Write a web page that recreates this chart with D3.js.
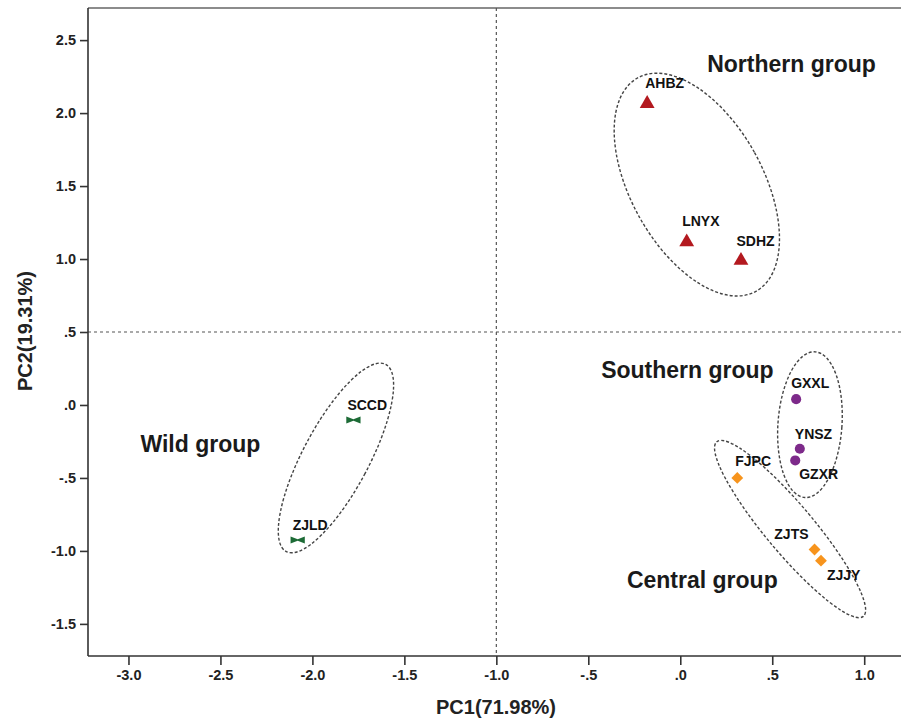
<!DOCTYPE html>
<html>
<head>
<meta charset="utf-8">
<script src="https://cdn.jsdelivr.net/npm/d3@7"></script>
<style>
  html, body { margin: 0; padding: 0; background: #fff; }
  svg { display: block; font-family: Arial, "Liberation Sans", Helvetica, sans-serif; }
</style>
</head>
<body>
<svg id="chart" width="901" height="723"></svg>
<script>
// ---------- data ----------
const names  = ["AHBZ", "LNYX", "SDHZ", "GXXL", "YNSZ", "GZXR", "FJPC", "ZJTS", "ZJJY", "SCCD", "ZJLD"];
const pc1    = [-0.18, 0.035, 0.33, 0.63, 0.65, 0.625, 0.31, 0.73, 0.765, -1.777, -2.08];
const pc2    = [2.075, 1.127, 1.00, 0.04, -0.30, -0.38, -0.50, -0.99, -1.067, -0.103, -0.925];
const groups = ["Northern", "Northern", "Northern", "Southern", "Southern", "Southern", "Central", "Central", "Central", "Wild", "Wild"];

const groupNames  = ["Northern group", "Southern group", "Central group", "Wild group"];
const groupKeys   = ["Northern", "Southern", "Central", "Wild"];
const xTicks = [-3.0, -2.5, -2.0, -1.5, -1.0, -0.5, 0.0, 0.5, 1.0];
const yTicks = [-1.5, -1.0, -0.5, 0.0, 0.5, 1.0, 1.5, 2.0, 2.5];
const refX = -1.0, refY = 0.5;
const xTitle = "PC1(71.98%)", yTitle = "PC2(19.31%)";

// ---------- styling / layout ----------
const colors = { Northern: "#b3191f", Southern: "#7d2a8a", Central: "#f7941d", Wild: "#1d6b36" };
const labelPlace = {
  AHBZ: [-2, -14, "start"], LNYX: [-4.5, -14, "start"], SDHZ: [-4.5, -13, "start"],
  GXXL: [-5, -11.5, "start"], YNSZ: [-5, -10, "start"], GZXR: [4, 19, "start"],
  FJPC: [-2, -12, "start"], ZJTS: [-6, -10, "end"], ZJJY: [6, 19, "start"],
  SCCD: [-6, -10, "start"], ZJLD: [-5, -10, "start"]
};
const groupLabelPos = { Northern: [0.146, 2.28], Southern: [-0.43, 0.185], Central: [-0.29, -1.256], Wild: [-2.935, -0.321] };
const ellipses = [
  { c: [0.09, 1.51], rx: 66, ry: 122, rot: -29 },
  { c: [0.705, -0.135], rx: 32, ry: 73, rot: 4 },
  { c: [0.597, -0.85], rx: 24, ry: 114, rot: -40 },
  { c: [-1.872, -0.363], rx: 33, ry: 106, rot: 28 }
];

const svg = d3.select("#chart");
const mLeft = 88, mRight = 901, mTop = 8, mBottom = 656;

const x = d3.scaleLinear().domain([-3.22, 1.2]).range([mLeft, mRight]);
const y = d3.scaleLinear().domain([-1.72, 2.72]).range([mBottom, mTop]);

const fmt = v => {
  let s = Math.abs(v) < 1e-9 ? "0.0" : v.toFixed(1);
  return s.replace(/^(-?)0\./, "$1.");
};

svg.append("line").attr("x1", mLeft).attr("x2", mRight).attr("y1", mTop).attr("y2", mTop)
  .attr("stroke", "#666").attr("stroke-width", 1.6);

svg.append("line").attr("x1", x(refX)).attr("x2", x(refX)).attr("y1", mTop).attr("y2", mBottom)
  .attr("stroke", "#555").attr("stroke-width", 1.2).attr("stroke-dasharray", "3,3");
svg.append("line").attr("x1", mLeft).attr("x2", mRight).attr("y1", y(refY)).attr("y2", y(refY))
  .attr("stroke", "#555").attr("stroke-width", 1.2).attr("stroke-dasharray", "3,3");

const xAxis = d3.axisBottom(x).tickValues(xTicks).tickFormat(fmt).tickSize(9).tickPadding(5).tickSizeOuter(0);
const yAxis = d3.axisLeft(y).tickValues(yTicks).tickFormat(fmt).tickSize(8).tickPadding(4).tickSizeOuter(0);

const gx = svg.append("g").attr("transform", `translate(0,${mBottom})`).call(xAxis);
const gy = svg.append("g").attr("transform", `translate(${mLeft},0)`).call(yAxis);
[gx, gy].forEach(g => {
  g.select(".domain").attr("stroke", "#333").attr("stroke-width", 1.6);
  g.selectAll(".tick line").attr("stroke", "#333").attr("stroke-width", 1.6);
  g.selectAll(".tick text").attr("fill", "#222").attr("font-size", 14.5).attr("font-weight", "bold")
    .attr("font-family", "Arial, 'Liberation Sans', sans-serif");
});
gx.select(".domain").attr("d", `M${mLeft},0H${mRight}`);
gy.select(".domain").attr("d", `M0,${mTop}V${mBottom}`);

svg.append("text").attr("x", 496).attr("y", 714).attr("text-anchor", "middle")
  .attr("font-size", 20).attr("font-weight", "bold").attr("fill", "#222").text(xTitle);
svg.append("text").attr("transform", `translate(32,331) rotate(-90)`).attr("text-anchor", "middle")
  .attr("font-size", 20).attr("font-weight", "bold").attr("fill", "#222").text(yTitle);

svg.append("g").selectAll("ellipse").data(ellipses).join("ellipse")
  .attr("transform", d => `translate(${x(d.c[0])},${y(d.c[1])}) rotate(${d.rot})`)
  .attr("rx", d => d.rx).attr("ry", d => d.ry)
  .attr("fill", "none").attr("stroke", "#444").attr("stroke-width", 1.4).attr("stroke-dasharray", "3,2");

const bowtie = {
  draw(ctx, size) {
    const w = Math.sqrt(size) * 1.3, h = w * 0.5;
    ctx.moveTo(-w / 2, -h / 2); ctx.lineTo(0, -0.8); ctx.lineTo(w / 2, -h / 2);
    ctx.lineTo(w / 2, h / 2); ctx.lineTo(0, 0.8); ctx.lineTo(-w / 2, h / 2); ctx.closePath();
  }
};
const symType = { Northern: d3.symbolTriangle, Southern: d3.symbolCircle, Central: d3.symbolSquare, Wild: bowtie };
const symSize = { Northern: 95, Southern: 80, Central: 70, Wild: 120 };

const pts = names.map((n, i) => ({ name: n, x: pc1[i], y: pc2[i], g: groups[i] }));

svg.append("g").selectAll("path").data(pts).join("path")
  .attr("transform", d => `translate(${x(d.x)},${y(d.y)})` + (d.g === "Central" ? " rotate(45)" : "") + (d.g === "Northern" ? " translate(0,1.5)" : ""))
  .attr("d", d => d3.symbol().type(symType[d.g]).size(symSize[d.g])())
  .attr("fill", d => colors[d.g]);

svg.append("g").selectAll("text").data(pts).join("text")
  .attr("x", d => x(d.x) + labelPlace[d.name][0])
  .attr("y", d => y(d.y) + labelPlace[d.name][1])
  .attr("text-anchor", d => labelPlace[d.name][2])
  .attr("font-size", 14).attr("font-weight", "bold").attr("fill", "#111")
  .text(d => d.name);

svg.append("g").selectAll("text").data(groupKeys).join("text")
  .attr("x", d => x(groupLabelPos[d][0]))
  .attr("y", d => y(groupLabelPos[d][1]))
  .attr("font-size", 23).attr("font-weight", "bold").attr("fill", "#1a1a1a")
  .text((d, i) => groupNames[i]);
</script>
</body>
</html>
